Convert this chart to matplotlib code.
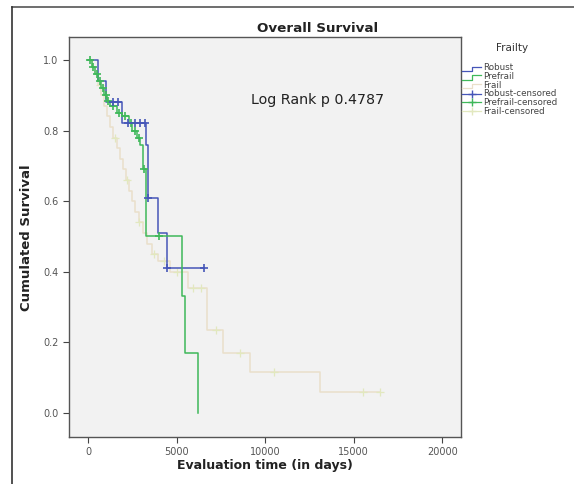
import matplotlib
matplotlib.use("Agg")
import matplotlib.pyplot as plt
from matplotlib.lines import Line2D
import numpy as np

# ---- data ----
robust_t = [0, 560, 1020, 1920, 3270, 3390, 3950, 4450, 6550]
robust_s = [1.0, 0.94, 0.88, 0.82, 0.76, 0.61, 0.51, 0.41, 0.41]
robust_cens_t = [1410, 1690, 2260, 2650, 2930, 3200, 3390, 4450, 6550]

prefrail_t = [0, 200, 395, 564, 734, 903, 1072, 1241, 1636, 1918, 2314, 2483,
              2765, 2934, 3104, 3273, 5304, 5474, 6207]
prefrail_s = [1.0, 0.98, 0.96, 0.94, 0.92, 0.90, 0.885, 0.87, 0.85, 0.84, 0.82,
              0.80, 0.78, 0.76, 0.69, 0.50, 0.33, 0.17, 0.0]
prefrail_cens_t = [120, 300, 480, 650, 820, 990, 1150, 1400, 1750, 2100, 2400,
                   2650, 2850, 3150, 4000]

frail_t = [0, 226, 395, 564, 734, 903, 1072, 1241, 1411, 1636, 1806, 1975, 2144,
           2314, 2483, 2652, 2878, 3104, 3330, 3612, 3950, 4627, 5643, 6715,
           7618, 9142, 13092, 16478]
frail_s = [1.0, 0.98, 0.96, 0.93, 0.90, 0.87, 0.84, 0.81, 0.78, 0.75, 0.72, 0.69,
           0.66, 0.63, 0.60, 0.57, 0.54, 0.51, 0.48, 0.45, 0.43, 0.40, 0.354,
           0.235, 0.17, 0.116, 0.059, 0.059]
frail_cens_t = [700, 1500, 2200, 2900, 3700, 4300, 5000, 5900, 6400, 7200, 8600,
                10500, 15500, 16478]

x_ticks = [0, 5000, 10000, 15000, 20000]
y_ticks = [0.0, 0.2, 0.4, 0.6, 0.8, 1.0]
legend_labels = ["Robust", "Prefrail", "Frail", "Robust-censored",
                 "Prefrail-censored", "Frail-censored"]

c_robust = "#4656b8"
c_prefrail = "#3fb85a"
c_frail = "#eadfca"
c_frail_cens = "#e2e8bf"


def step_at(ts, ss, t):
    idx = np.searchsorted(np.asarray(ts), t, side="right") - 1
    return np.asarray(ss)[idx]


fig = plt.figure(figsize=(5.74, 4.84), dpi=100)
fig.patch.set_facecolor("white")
ax = fig.add_axes([69 / 574, 1 - 437 / 484, (461 - 69) / 574, (437 - 37) / 484])
ax.set_facecolor("#f2f2f2")

ax.step(frail_t, frail_s, where="post", color=c_frail, lw=1.1, zorder=2)
ax.plot(frail_cens_t, [step_at(frail_t, frail_s, t) for t in frail_cens_t],
        "+", color=c_frail_cens, ms=6, mew=0.9, zorder=2)

ax.step(robust_t, robust_s, where="post", color=c_robust, lw=1.1, zorder=3)
ax.step(prefrail_t, prefrail_s, where="post", color=c_prefrail, lw=1.1, zorder=4)
ax.plot(prefrail_cens_t, [step_at(prefrail_t, prefrail_s, t) for t in prefrail_cens_t],
        "+", color=c_prefrail, ms=6, mew=1.2, zorder=5)
ax.plot(robust_cens_t, [step_at(robust_t, robust_s, t) for t in robust_cens_t],
        "+", color=c_robust, ms=6, mew=1.2, zorder=5)

ax.set_xlim(-1072, 21049)
ax.set_ylim(-0.068, 1.065)
ax.set_xticks(x_ticks)
ax.set_xticklabels([str(v) for v in x_ticks])
ax.set_yticks(y_ticks)
ax.set_yticklabels([f"{v:.1f}" for v in y_ticks])
ax.tick_params(direction="out", length=4, width=0.8, colors="#444444",
               labelsize=7, labelcolor="#555555")
for sp in ax.spines.values():
    sp.set_color("#555555")
    sp.set_linewidth(1.0)

fig.text(318 / 574, 1 - 100 / 484, "Log Rank p 0.4787", fontsize=10.3,
         ha="center", va="center", color="#222222")

fig.text(318 / 574, 1 - 29 / 484, "Overall Survival", fontsize=9.7,
         fontweight="bold", ha="center", va="center", color="#222222")
fig.text(265 / 574, 1 - 465 / 484, "Evaluation time (in days)", fontsize=9,
         ha="center", va="center", color="#222222", fontweight="semibold")
fig.text(27 / 574, 1 - 238 / 484, "Cumulated Survival", fontsize=9.5,
         rotation=90, ha="center", va="center", color="#222222",
         fontweight="semibold")

# legend (manual)
fig.text(512 / 574, 1 - 48 / 484, "Frailty", fontsize=7.5, ha="center",
         va="center", color="#333333")
leg_colors = [c_robust, c_prefrail, c_frail, c_robust, c_prefrail, c_frail_cens]
y0 = 68
for i, (lab, col) in enumerate(zip(legend_labels, leg_colors)):
    yy = y0 + i * 8.6
    fy = 1 - yy / 484
    if i < 3:
        xs = np.array([462, 472, 472, 481]) / 574
        ys = 1 - np.array([yy + 3, yy + 3, yy - 1.5, yy - 1.5]) / 484
        fig.add_artist(Line2D(xs, ys, color=col, lw=0.9))
    else:
        fig.add_artist(Line2D([462 / 574, 481 / 574], [fy, fy], color=col, lw=0.9))
        fig.add_artist(Line2D([471.5 / 574], [fy], color=col, marker="+",
                              ms=6, mew=1.0, lw=0))
    fig.text(483 / 574, fy, lab, fontsize=6.3, ha="left", va="center",
             color="#444444")

# outer frame lines
fig.add_artist(Line2D([12 / 574, 1.0], [1 - 7 / 484, 1 - 7 / 484],
                      color="#555555", lw=1.2))
fig.add_artist(Line2D([12 / 574, 12 / 574], [0, 1 - 7 / 484],
                      color="#333333", lw=1.2))

fig.savefig("out.png", dpi=100)
